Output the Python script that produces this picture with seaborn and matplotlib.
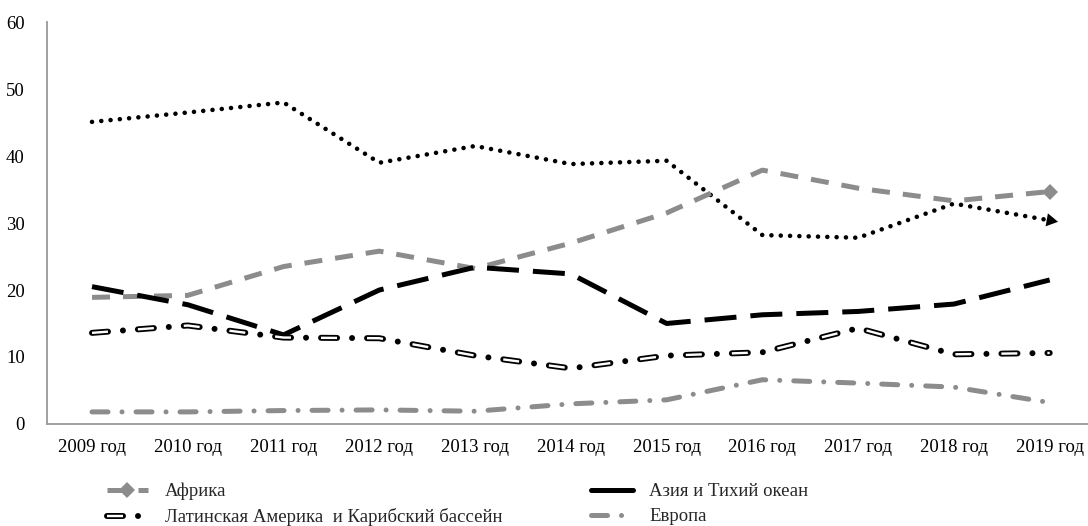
import pandas as pd
import matplotlib
matplotlib.use("Agg")
import matplotlib.pyplot as plt
import seaborn as sns

years = ['2009 год', '2010 год', '2011 год', '2012 год', '2013 год', '2014 год',
         '2015 год', '2016 год', '2017 год', '2018 год', '2019 год']
dotted = [45.1, 46.5, 48.0, 39.0, 41.5, 38.8, 39.3, 28.2, 27.8, 32.9, 30.4]
africa = [18.9, 19.2, 23.5, 25.8, 23.2, 27.0, 31.5, 37.9, 35.2, 33.3, 34.7]
asia = [20.5, 17.8, 13.3, 20.0, 23.4, 22.4, 15.0, 16.3, 16.8, 17.9, 21.5]
latam = [13.6, 14.7, 12.9, 12.8, 10.2, 8.3, 10.2, 10.7, 14.3, 10.4, 10.6]
europe = [1.8, 1.8, 2.0, 2.1, 1.9, 3.0, 3.6, 6.6, 6.1, 5.5, 3.2]

df = pd.DataFrame({'year': years, 'dotted': dotted, 'africa': africa, 'asia': asia,
                   'latam': latam, 'europe': europe})

sns.set_style("white")
plt.rcParams['font.family'] = ['Liberation Serif', 'DejaVu Serif']
plt.rcParams['lines.scale_dashes'] = False

px = 0.72  # pixels -> points at dpi 100
gray = '#8c8c8c'
fs = 13.5

fig = plt.figure(figsize=(10.88, 5.26), dpi=100)
ax = fig.add_axes([0.0432, 0.194, 0.9568, 0.764])

sns.lineplot(data=df, x='year', y='dotted', ax=ax, color='black', lw=4.6 * px,
             linestyle=(0, (0.01, 9.3 * px)), dash_capstyle='round', sort=False,
             marker=(3, 0, -100), markevery=[10], markersize=11, markeredgewidth=0)
sns.lineplot(data=df, x='year', y='africa', ax=ax, color=gray, lw=5 * px,
             linestyle=(0, (18 * px, 13 * px)), sort=False,
             marker='D', markevery=[10], markersize=8, markeredgewidth=0)
sns.lineplot(data=df, x='year', y='asia', ax=ax, color='black', lw=5 * px,
             linestyle=(0, (32 * px, 14 * px)), sort=False)
sns.lineplot(data=df, x='year', y='latam', ax=ax, color='black', lw=6 * px,
             linestyle=(0, (16 * px, 15 * px, 0.01, 15 * px)), dash_capstyle='round', sort=False)
sns.lineplot(data=df, x='year', y='latam', ax=ax, color='white', lw=2.4 * px,
             linestyle=(0, (16 * px, 30.01 * px)), dash_capstyle='butt', sort=False)
sns.lineplot(data=df, x='year', y='europe', ax=ax, color=gray, lw=5 * px,
             linestyle=(0, (16 * px, 14 * px, 0.01, 14 * px)), dash_capstyle='round', sort=False)

ax.set_xlim(-0.47, 10.4)
ax.set_ylim(0, 60)
ax.set_yticks(range(0, 61, 10))
ax.set_xlabel('')
ax.set_ylabel('')
ax.tick_params(axis='both', length=0, labelsize=fs, colors='black')
ax.tick_params(axis='x', pad=11)
ax.tick_params(axis='y', pad=16)
for s in ['top', 'right']:
    ax.spines[s].set_visible(False)
for s in ['left', 'bottom']:
    ax.spines[s].set_color('#999999')
    ax.spines[s].set_linewidth(1.3)

h_af = ax.lines[1]
h_lat = (ax.lines[3], ax.lines[4])
h_eu = ax.lines[5]
h_as_leg = plt.Line2D([], [], color='black', lw=5 * px)
fig.legend([h_af, h_lat, h_as_leg, h_eu],
           ['Африка', 'Латинская Америка  и Карибский бассейн', 'Азия и Тихий океан', 'Европа'],
           loc='upper left', bbox_to_anchor=(0.098, 0.082), ncol=2, frameon=False,
           fontsize=fs, handlelength=2.2, columnspacing=4.75, labelspacing=0.42,
           borderaxespad=0, borderpad=0, handletextpad=0.9)

fig.savefig('out.png', dpi=100)
